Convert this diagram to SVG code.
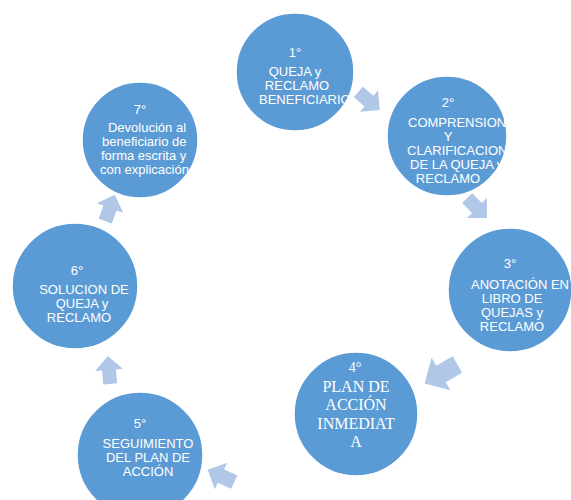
<svg xmlns="http://www.w3.org/2000/svg" width="571" height="500" viewBox="0 0 571 500">
<style>
.c{fill:#5b9bd5;stroke:#ffffff;stroke-width:1.5}
.t{font-family:"Liberation Sans",Arial,sans-serif;font-size:13px;fill:#ffffff}
.s{font-family:"Liberation Serif","Times New Roman",serif;font-size:16px;fill:#ffffff}
.m{text-anchor:middle}
.a{fill:#b0c7e8}
</style>
<defs>
<path id="arr" d="M-14,-7 L0,-7 L0,-14 L14,0 L0,14 L0,7 L-14,7 Z"/>
<clipPath id="k1"><circle cx="295" cy="72" r="59"/></clipPath>
<clipPath id="k2"><circle cx="447" cy="136" r="60"/></clipPath>
<clipPath id="k3"><circle cx="510" cy="290" r="62"/></clipPath>
<clipPath id="k4"><circle cx="356" cy="414" r="62"/></clipPath>
<clipPath id="k5"><circle cx="140" cy="455" r="63"/></clipPath>
<clipPath id="k6"><circle cx="75" cy="286" r="63"/></clipPath>
<clipPath id="k7"><circle cx="140" cy="140" r="58"/></clipPath>
</defs>
<rect width="571" height="500" fill="#ffffff"/>
<g id="connectors">
<use href="#arr" class="a" transform="translate(369,101) rotate(40)"/>
<use href="#arr" class="a" transform="translate(477,208) rotate(45)"/>
<use href="#arr" class="a" transform="translate(441,374) rotate(150) scale(1.35)"/>
<use href="#arr" class="a" transform="translate(221,476) rotate(205) scale(1.05)"/>
<use href="#arr" class="a" transform="translate(109,370) rotate(-95)"/>
<use href="#arr" class="a" transform="translate(110,208) rotate(-70)"/>
</g>
<g id="n1">
<circle class="c" cx="295" cy="72" r="59"/>
<g clip-path="url(#k1)">
<text class="t m" x="295" y="57">1°</text>
<text class="t m" x="295" y="76">QUEJA y</text>
<text class="t m" x="297" y="90">RECLAMO</text>
<text class="t" x="259" y="104">BENEFICIARIO</text>
</g>
</g>
<g id="n2">
<circle class="c" cx="447" cy="136" r="60"/>
<g clip-path="url(#k2)">
<text class="t m" x="448" y="107">2°</text>
<text class="t" x="408" y="127">COMPRENSION</text>
<text class="t m" x="448" y="141">Y</text>
<text class="t" x="407" y="155">CLARIFICACION</text>
<text class="t" x="410" y="169">DE LA QUEJA y</text>
<text class="t m" x="448" y="183">RECLAMO</text>
</g>
</g>
<g id="n3">
<circle class="c" cx="510" cy="290" r="62"/>
<g clip-path="url(#k3)">
<text class="t m" x="510" y="268">3°</text>
<text class="t" x="471" y="289">ANOTACIÓN EN</text>
<text class="t m" x="512" y="303">LIBRO DE</text>
<text class="t m" x="512" y="317">QUEJAS y</text>
<text class="t m" x="512" y="331">RECLAMO</text>
</g>
</g>
<g id="n4">
<circle class="c" cx="356" cy="414" r="62"/>
<g clip-path="url(#k4)">
<text class="s m" x="355" y="372" style="font-size:14px">4°</text>
<text class="s m" x="356" y="392">PLAN DE</text>
<text class="s m" x="356" y="410">ACCIÓN</text>
<text class="s m" x="356" y="429">INMEDIAT</text>
<text class="s m" x="356" y="447">A</text>
</g>
</g>
<g id="n5">
<circle class="c" cx="140" cy="455" r="63"/>
<g clip-path="url(#k5)">
<text class="t m" x="140" y="428">5°</text>
<text class="t m" x="148" y="448">SEGUIMIENTO</text>
<text class="t m" x="148" y="462">DEL PLAN DE</text>
<text class="t m" x="148" y="476">ACCIÓN</text>
</g>
</g>
<g id="n6">
<circle class="c" cx="75" cy="286" r="63"/>
<g clip-path="url(#k6)">
<text class="t m" x="77" y="275">6°</text>
<text class="t m" x="84" y="294">SOLUCION DE</text>
<text class="t m" x="82" y="308">QUEJA y</text>
<text class="t m" x="79" y="322">RECLAMO</text>
</g>
</g>
<g id="n7">
<circle class="c" cx="140" cy="140" r="58"/>
<g clip-path="url(#k7)">
<text class="t m" x="140" y="114">7°</text>
<text class="t m" x="147" y="132">Devolución al</text>
<text class="t" x="102" y="146">beneficiario de</text>
<text class="t" x="101" y="160">forma escrita y</text>
<text class="t" x="100" y="174">con explicación</text>
</g>
</g>
</svg>
